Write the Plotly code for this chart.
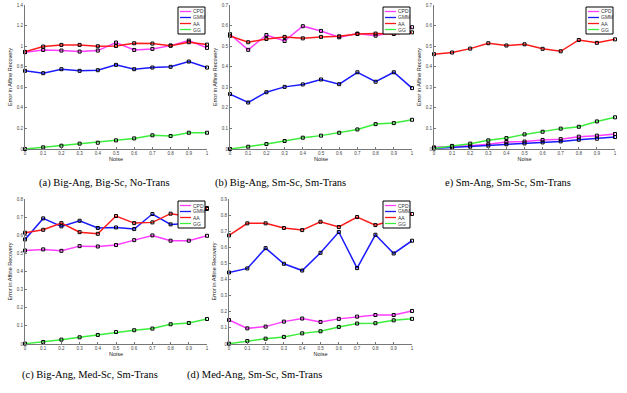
import plotly.graph_objects as go

W, H = 627, 393

noise = [0, 0.1, 0.2, 0.3, 0.4, 0.5, 0.6, 0.7, 0.8, 0.9, 1.0]
series_names = ["CPD", "GMM", "AA", "GG"]
series_colors = ["#ff3cff", "#1a1aff", "#ff1a1a", "#3cee3c"]

# (a) Big-Ang, Big-Sc, No-Trans
a_cpd = [0.941, 0.963, 0.957, 0.947, 0.957, 1.035, 0.963, 0.973, 1.005, 1.054, 0.983]
a_gmm = [0.760, 0.737, 0.776, 0.760, 0.766, 0.818, 0.776, 0.792, 0.799, 0.850, 0.792]
a_aa = [0.944, 0.996, 1.012, 1.012, 0.999, 1.002, 1.028, 1.025, 1.005, 1.038, 1.015]
a_gg = [0.0, 0.016, 0.032, 0.052, 0.061, 0.084, 0.103, 0.133, 0.126, 0.158, 0.158]

# (b) Big-Ang, Sm-Sc, Sm-Trans
b_cpd = [0.558, 0.482, 0.554, 0.525, 0.597, 0.574, 0.543, 0.561, 0.551, 0.569, 0.592]
b_gmm = [0.267, 0.226, 0.276, 0.302, 0.314, 0.338, 0.315, 0.373, 0.327, 0.373, 0.296]
b_aa = [0.550, 0.519, 0.535, 0.545, 0.538, 0.545, 0.548, 0.559, 0.561, 0.559, 0.567]
b_gg = [0.0, 0.011, 0.024, 0.039, 0.055, 0.065, 0.079, 0.095, 0.121, 0.126, 0.142]

# e) Sm-Ang, Sm-Sc, Sm-Trans
e_cpd = [0.008, 0.011, 0.016, 0.023, 0.034, 0.036, 0.044, 0.048, 0.060, 0.065, 0.073]
e_gmm = [0.003, 0.008, 0.011, 0.016, 0.023, 0.027, 0.032, 0.037, 0.045, 0.050, 0.058]
e_aa = [0.461, 0.469, 0.488, 0.514, 0.503, 0.509, 0.487, 0.475, 0.530, 0.516, 0.533]
e_gg = [0.003, 0.015, 0.026, 0.042, 0.053, 0.071, 0.084, 0.099, 0.108, 0.134, 0.154]

# (c) Big-Ang, Med-Sc, Sm-Trans
c_cpd = [0.516, 0.522, 0.514, 0.540, 0.538, 0.546, 0.573, 0.599, 0.570, 0.570, 0.597]
c_gmm = [0.577, 0.693, 0.649, 0.680, 0.640, 0.643, 0.634, 0.717, 0.660, 0.665, 0.745]
c_aa = [0.614, 0.630, 0.667, 0.617, 0.608, 0.706, 0.667, 0.671, 0.719, 0.705, 0.750]
c_gg = [0.002, 0.011, 0.024, 0.037, 0.050, 0.066, 0.076, 0.085, 0.109, 0.116, 0.138]

# (d) Med-Ang, Sm-Sc, Sm-Trans
d_cpd = [0.149, 0.097, 0.108, 0.139, 0.158, 0.137, 0.156, 0.170, 0.180, 0.180, 0.205]
d_gmm = [0.444, 0.469, 0.595, 0.498, 0.456, 0.566, 0.695, 0.471, 0.678, 0.562, 0.641]
d_aa = [0.674, 0.749, 0.749, 0.720, 0.707, 0.759, 0.726, 0.788, 0.738, 0.770, 0.807]
d_gg = [0.002, 0.019, 0.033, 0.044, 0.066, 0.079, 0.106, 0.127, 0.129, 0.147, 0.156]

captions = ["(a) Big-Ang, Big-Sc, No-Trans", "(b) Big-Ang, Sm-Sc, Sm-Trans",
            "e) Sm-Ang, Sm-Sc, Sm-Trans", "(c) Big-Ang, Med-Sc, Sm-Trans",
            "(d) Med-Ang, Sm-Sc, Sm-Trans"]
x_title = "Noise"
y_title = "Error in Affine Recovery"


def pxx(x):
    return x / W


def pxy(y):
    return 1 - y / H


panels = [
    dict(data=[a_cpd, a_gmm, a_aa, a_gg], ymax=1.4, dtick=0.2, box=(25, 207, 5, 149), cap=(37, 183)),
    dict(data=[b_cpd, b_gmm, b_aa, b_gg], ymax=0.7, dtick=0.1, box=(230, 412, 5, 149), cap=(213, 183)),
    dict(data=[e_cpd, e_gmm, e_aa, e_gg], ymax=0.7, dtick=0.1, box=(434, 615, 5, 149), cap=(443, 183)),
    dict(data=[c_cpd, c_gmm, c_aa, c_gg], ymax=0.8, dtick=0.1, box=(25, 207, 199, 344), cap=(20, 375)),
    dict(data=[d_cpd, d_gmm, d_aa, d_gg], ymax=0.9, dtick=0.1, box=(229, 412, 199, 344), cap=(185, 375)),
]

fig = go.Figure()
layout = dict(width=W, height=H, margin=dict(l=0, r=0, t=0, b=0),
              paper_bgcolor="white", plot_bgcolor="white", showlegend=False)
shapes = []
annotations = []
tickfont = dict(family="Liberation Sans", size=4.5, color="#444")
titlefont = dict(family="Liberation Sans", size=5.5, color="#222")

for i, p in enumerate(panels):
    n = "" if i == 0 else str(i + 1)
    x0, x1, yt, yb = p["box"]
    for name, color, vals in zip(series_names, series_colors, p["data"]):
        fig.add_trace(go.Scatter(
            x=noise, y=vals, mode="lines+markers", name=name,
            xaxis="x" + n, yaxis="y" + n, cliponaxis=False,
            line=dict(color=color, width=1.5),
            marker=dict(symbol="square-open", color="black", size=3, line=dict(width=1)),
        ))
    layout["xaxis" + n] = dict(
        domain=[pxx(x0), pxx(x1)], anchor="y" + n, range=[0, 1], dtick=0.1, tick0=0,
        automargin=False,
        showgrid=False, zeroline=False, showline=True, linecolor="#777", linewidth=1,
        ticks="inside", ticklen=2, tickcolor="#777", tickfont=tickfont,
        title=dict(text=x_title, font=titlefont, standoff=1),
    )
    layout["yaxis" + n] = dict(
        domain=[pxy(yb), pxy(yt)], anchor="x" + n, range=[0, p["ymax"]], dtick=p["dtick"], tick0=0,
        automargin=False,
        showgrid=False, zeroline=False, showline=True, linecolor="#777", linewidth=1,
        ticks="inside", ticklen=2, tickcolor="#777", tickfont=tickfont,
        title=dict(text=y_title, font=titlefont, standoff=3),
    )
    # legend box (drawn by hand, small like the original)
    lx0, ly0 = x1 - 29, yt + 2
    lx1, ly1 = lx0 + 27, ly0 + 27
    shapes.append(dict(type="rect", xref="paper", yref="paper",
                       x0=pxx(lx0), x1=pxx(lx1), y0=pxy(ly1), y1=pxy(ly0),
                       line=dict(color="black", width=1), fillcolor="white", layer="above"))
    for k, (name, color) in enumerate(zip(series_names, series_colors)):
        yy = ly0 + 4.5 + k * 6.0
        shapes.append(dict(type="line", xref="paper", yref="paper",
                           x0=pxx(lx0 + 2), x1=pxx(lx0 + 13), y0=pxy(yy), y1=pxy(yy),
                           line=dict(color=color, width=1.3), layer="above"))
        annotations.append(dict(text=name, xref="paper", yref="paper", x=pxx(lx0 + 14), y=pxy(yy),
                                xanchor="left", yanchor="middle", showarrow=False, borderpad=0,
                                font=dict(family="Liberation Sans", size=5, color="#333")))
    cx, cy = p["cap"]
    annotations.append(dict(text=captions[i], xref="paper", yref="paper", x=pxx(cx), y=pxy(cy),
                            xanchor="left", yanchor="middle", showarrow=False,
                            font=dict(family="Liberation Serif", size=10.5, color="black")))

layout["shapes"] = shapes
layout["annotations"] = annotations
fig.update_layout(**layout)
fig.write_html("out.html", config={"displayModeBar": False},
               post_script="document.body.style.margin='0';document.body.style.overflow='hidden';")
